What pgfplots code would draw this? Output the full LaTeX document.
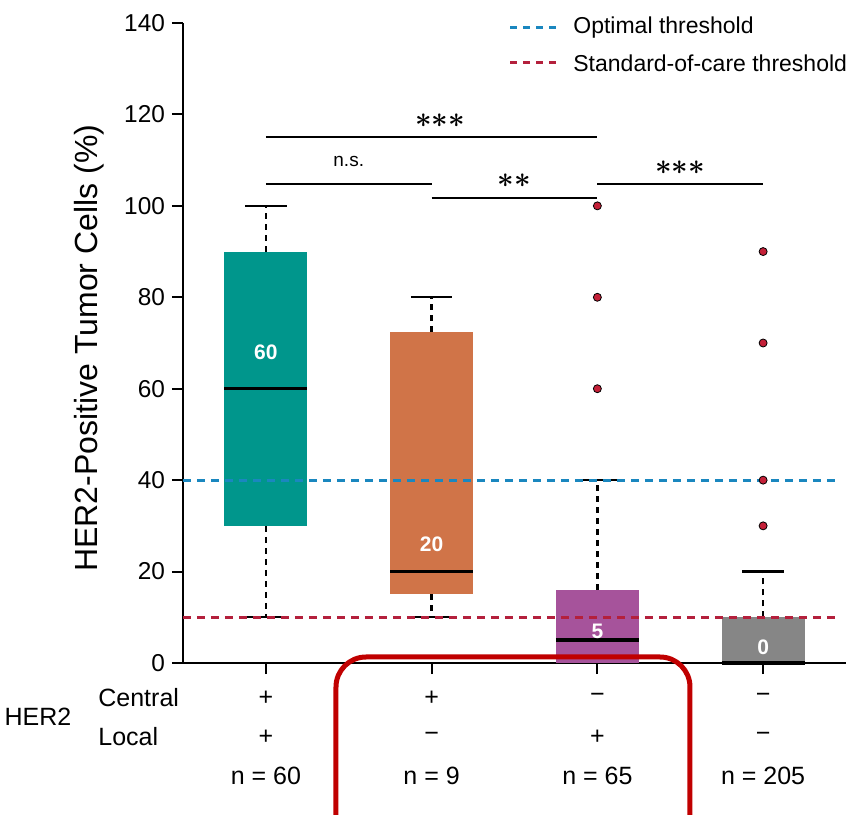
\documentclass[border=0pt]{standalone}
\usepackage{fontspec}
\setmainfont{Liberation Sans}
\usepackage{pgfplots}
\pgfplotsset{compat=1.18}
\usepgfplotslibrary{statistics}
\definecolor{tealc}{RGB}{0,150,140}
\definecolor{orangec}{RGB}{208,116,72}
\definecolor{purplec}{RGB}{166,83,155}
\definecolor{grayc}{RGB}{134,134,134}
\definecolor{blued}{RGB}{26,135,191}
\definecolor{redd}{RGB}{180,32,60}
\definecolor{outred}{RGB}{196,32,56}
\definecolor{annred}{RGB}{192,0,0}
\newcommand{\st}{{\boldmath$\ast$}}
\tikzset{btab/.style={font=\fontsize{12.5}{14}\selectfont, inner sep=0pt}}
\begin{document}
\begin{tikzpicture}
\begin{axis}[
  x=82.875pt, y=2.2857pt,
  xmin=0.5, xmax=4.5, ymin=0, ymax=140,
  axis x line=bottom, axis y line=left,
  axis line style={-, line width=1.2pt, black},
  xtick={1,2,3,4}, xticklabels={},
  ytick={0,20,...,140},
  tick align=outside,
  major tick length=5.5pt,
  tick style={line width=1pt, black},
  every tick label/.append style={font=\fontsize{12.2}{14}\selectfont},
  /pgf/number format/assume math mode=true,
  clip=false,
  ylabel={HER2-Positive Tumor Cells (\%)},
  ylabel style={at={(axis description cs:-0.142,0.492)}, anchor=center, font=\fontsize{16}{18}\selectfont},
  boxplot/draw direction=y,
  boxplot/box extend=0.5,
  boxplot/whisker extend=0.25,
  boxplot/every median/.style={line width=1.75pt, draw=black},
  boxplot/draw/lower whisker/.code={
    \draw[black, line width=1.2pt, dash pattern=on 3pt off 2.5pt]
      (boxplot box cs:\pgfplotsboxplotvalue{lower quartile},0.5) -- (boxplot box cs:\pgfplotsboxplotvalue{lower whisker},0.5);
    \draw[black, line width=1.2pt]
      (boxplot whisker cs:\pgfplotsboxplotvalue{lower whisker},0) -- (boxplot whisker cs:\pgfplotsboxplotvalue{lower whisker},1);
  },
  boxplot/draw/upper whisker/.code={
    \draw[black, line width=1.2pt, dash pattern=on 3pt off 2.5pt]
      (boxplot box cs:\pgfplotsboxplotvalue{upper quartile},0.5) -- (boxplot box cs:\pgfplotsboxplotvalue{upper whisker},0.5);
    \draw[black, line width=1.2pt]
      (boxplot whisker cs:\pgfplotsboxplotvalue{upper whisker},0) -- (boxplot whisker cs:\pgfplotsboxplotvalue{upper whisker},1);
  },
]
% Box 1: HER2 central+ / local+
\addplot[boxplot prepared={draw position=1, median=60, lower quartile=30, upper quartile=90, lower whisker=10, upper whisker=100},
  boxplot/every box/.style={draw=none, fill=tealc}, mark=*, mark size=2pt, mark options={draw=none, fill=outred}]
  coordinates {};
% Box 2: central+ / local-
\addplot[boxplot prepared={draw position=2, median=20, lower quartile=15, upper quartile=72.5, lower whisker=10, upper whisker=80},
  boxplot/every box/.style={draw=none, fill=orangec}, mark=*, mark size=2pt, mark options={draw=none, fill=outred}]
  coordinates {};
% Box 3: central- / local+
\addplot[boxplot prepared={draw position=3, median=5, lower quartile=0, upper quartile=16, lower whisker=0, upper whisker=40},
  boxplot/every box/.style={draw=none, fill=purplec}, mark=*, mark size=2pt, mark options={draw=none, fill=outred}]
  table[row sep=\\, y index=0] {60\\ 80\\ 100\\};
% Box 4: central- / local-
\addplot[boxplot prepared={draw position=4, median=0, lower quartile=0, upper quartile=10, lower whisker=0, upper whisker=20},
  boxplot/every box/.style={draw=none, fill=grayc}, mark=*, mark size=2pt, mark options={draw=none, fill=outred}]
  table[row sep=\\, y index=0] {30\\ 40\\ 70\\ 90\\};
% thresholds
\addplot[blued, line width=1.5pt, dash pattern=on 4pt off 3pt] coordinates {(0.5,40) (4.46,40)};
\addplot[redd, line width=1.5pt, dash pattern=on 4pt off 3pt] coordinates {(0.5,10) (4.46,10)};
% median labels
\node[white, font=\bfseries\fontsize{10.5}{12}\selectfont] at (axis cs:1,68) {60};
\node[white, font=\bfseries\fontsize{10.5}{12}\selectfont] at (axis cs:2,26) {20};
\node[white, font=\bfseries\fontsize{10.5}{12}\selectfont] at (axis cs:3,7) {5};
\node[white, font=\bfseries\fontsize{10.5}{12}\selectfont] at (axis cs:4,3.4) {0};
% significance bars
\draw[line width=1.2pt] (axis cs:1,115) -- (axis cs:3,115);
\node[font=\fontsize{15}{18}\selectfont] at (axis cs:2.05,118.6) {\st\st\st};
\draw[line width=1.2pt] (axis cs:1,104.8) -- (axis cs:2,104.8);
\node[font=\fontsize{9.5}{11}\selectfont] at (axis cs:1.5,109.6) {n.s.};
\draw[line width=1.2pt] (axis cs:2,101.7) -- (axis cs:3,101.7);
\node[font=\fontsize{15}{18}\selectfont] at (axis cs:2.5,105.6) {\st\st};
\draw[line width=1.2pt] (axis cs:3,104.8) -- (axis cs:4,104.8);
\node[font=\fontsize{15}{18}\selectfont] at (axis cs:3.5,108.3) {\st\st\st};
% legend
\draw[blued, line width=1.5pt, dash pattern=on 3.5pt off 3pt] (axis cs:2.473,139.1) -- (axis cs:2.775,139.1);
\node[anchor=west, font=\fontsize{11.5}{13}\selectfont, inner sep=0pt] at (axis cs:2.853,139.1) {Optimal threshold};
\draw[redd, line width=1.5pt, dash pattern=on 3.5pt off 3pt] (axis cs:2.473,131.25) -- (axis cs:2.775,131.25);
\node[anchor=west, font=\fontsize{11.5}{13}\selectfont, inner sep=0pt] at (axis cs:2.853,131.25) {Standard-of-care threshold};
% bottom table
\node[btab, anchor=west] at ([yshift=-17.5pt]axis cs:-0.0128,0) {Central};
\node[btab, anchor=west] at ([yshift=-37pt]axis cs:-0.0128,0) {Local};
\node[btab] at ([yshift=-27pt]axis cs:-0.375,0) {HER2};
\node[btab] at ([yshift=-17.5pt]axis cs:1,0) {+};
\node[btab] at ([yshift=-37pt]axis cs:1,0) {+};
\node[btab] at ([yshift=-56.5pt]axis cs:1,0) {n = 60};
\node[btab] at ([yshift=-17.5pt]axis cs:2,0) {+};
\node[btab] at ([yshift=-37pt]axis cs:2,0) {−};
\node[btab] at ([yshift=-56.5pt]axis cs:2,0) {n = 9};
\node[btab] at ([yshift=-17.5pt]axis cs:3,0) {−};
\node[btab] at ([yshift=-37pt]axis cs:3,0) {+};
\node[btab] at ([yshift=-56.5pt]axis cs:3,0) {n = 65};
\node[btab] at ([yshift=-17.5pt]axis cs:4,0) {−};
\node[btab] at ([yshift=-37pt]axis cs:4,0) {−};
\node[btab] at ([yshift=-56.5pt]axis cs:4,0) {n = 205};
\end{axis}
\draw[annred, line width=2.5pt, rounded corners=15pt] (76.5pt,-110pt) rectangle (253.5pt,3pt);
\pgfresetboundingbox
\useasboundingbox (-91.5pt,-76pt) rectangle (338pt,331.5pt);
\end{tikzpicture}
\end{document}
